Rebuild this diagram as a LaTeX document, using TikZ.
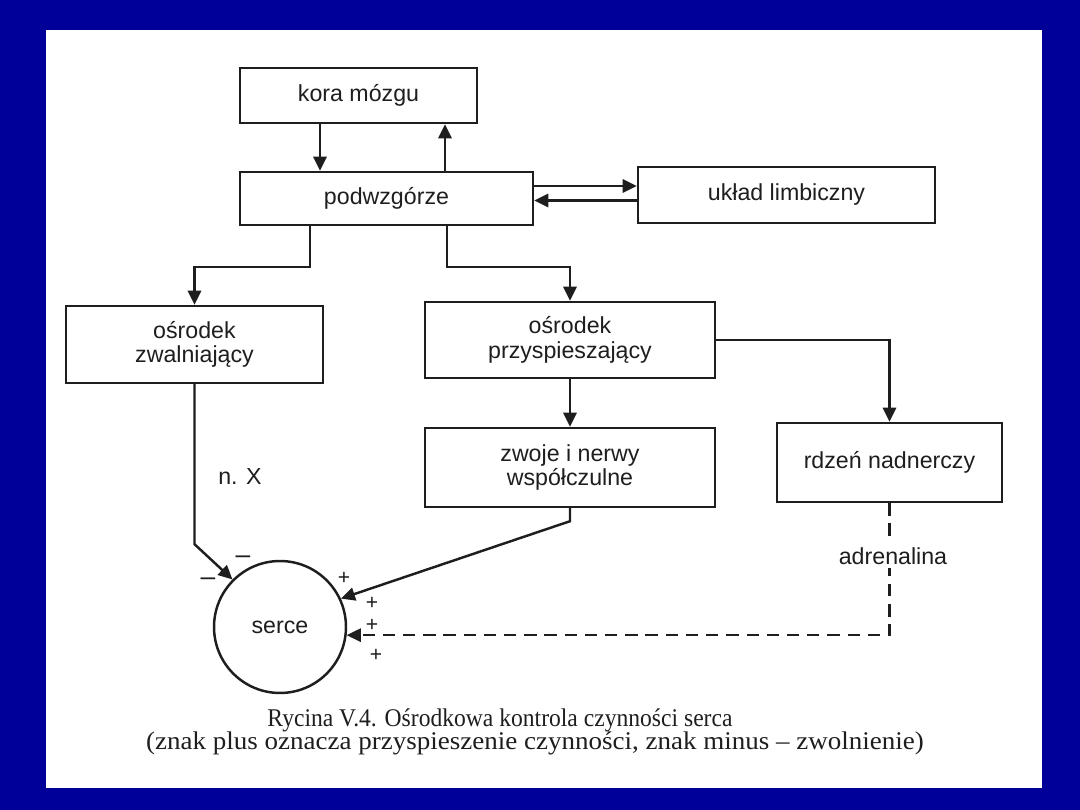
\documentclass[tikz,border=0pt]{standalone}
\usepackage{fontspec}
\setmainfont{Liberation Serif}
\newfontfamily\arialf{Liberation Sans}
\usetikzlibrary{arrows.meta,calc}
\definecolor{bgblue}{RGB}{0,0,153}
\definecolor{ink}{RGB}{30,30,30}
\tikzset{
  x=0.02cm, y=-0.02cm,
  box/.style={draw=ink, line width=1.4pt, fill=white, align=center, inner sep=2pt,
    font=\arialf\fontsize{13.2}{14}\selectfont, text=ink},
  arr/.style={draw=ink, line width=1.4pt, -{Triangle[length=8pt,width=7.5pt]}},
  darr/.style={arr, dash pattern=on 7pt off 4.5pt},
  lbl/.style={font=\arialf\fontsize{13.2}{14}\selectfont, text=ink, inner sep=1pt},
  sgn/.style={font=\arialf\fontsize{12}{12}\selectfont, text=ink, inner sep=0pt},
  msgn/.style={font=\arialf\fontsize{15}{15}\selectfont, text=ink, inner sep=0pt},
  captxt/.style={font=\fontsize{14.5}{16}\selectfont, text=ink, inner sep=0pt}
}
\begin{document}
\begin{tikzpicture}
\fill[bgblue] (0,0) rectangle (1080,810);
\useasboundingbox (0,0) rectangle (1080,810);
\fill[white] (46,30) rectangle (1042,788);

\node[box, minimum width=4.74cm, minimum height=1.1cm] (kora) at (358.5,95.5) {kora mózgu};
\node[box, minimum width=5.86cm, minimum height=1.06cm] (podw) at (386.5,198.5) {podwzgórze};
\node[box, minimum width=5.94cm, minimum height=1.12cm] (limb) at (786.5,195) {układ limbiczny};
\node[box, minimum width=5.14cm, minimum height=1.54cm] (zwal) at (194.5,344.5) {ośrodek\\zwalniający};
\node[box, minimum width=5.8cm, minimum height=1.52cm] (przy) at (570,340) {ośrodek\\przyspieszający};
\node[box, minimum width=5.8cm, minimum height=1.58cm] (zwoje) at (570,467.5) {zwoje i nerwy\\współczulne};
\node[box, minimum width=4.5cm, minimum height=1.58cm] (rdzen) at (889.5,462.5) {rdzeń nadnerczy};
\node[box, circle, minimum size=2.64cm, inner sep=0pt] (serce) at (280,627) {serce};

\draw[arr] ([xshift=-0.77cm]kora.south) -- ([xshift=-0.77cm]kora.south |- podw.north);
\draw[arr] ([xshift=1.17cm]podw.north) -- ([xshift=1.17cm]podw.north |- kora.south);
\draw[arr] ([yshift=0.25cm]podw.east) -- ([yshift=0.25cm]podw.east -| limb.west);
\draw[arr] ([yshift=-0.11cm]limb.west) -- ([yshift=-0.11cm]limb.west -| podw.east);
\draw[arr] ([xshift=-1.53cm]podw.south) -- ++(0,-0.82cm) -| (zwal.north);
\draw[arr] ([xshift=1.21cm]podw.south) -- ++(0,-0.82cm) -| (przy.north);
\draw[arr] (przy.south) -- (zwoje.north);
\draw[arr] (przy.east) -| (rdzen.north);
\draw[arr] (zwal.south) -- ++(0,-3.2cm) -- (serce.135);
\draw[arr] (zwoje.south) -- ++(0,-0.26cm) -- (serce.25);
\draw[darr] (rdzen.south) |- (serce.-7);

\node[lbl] (nx) at (240,477) {n. X};
\node[lbl, fill=white, inner sep=2pt] (adr) at (893,556) {adrenalina};
\node[msgn] (m1) at (243,560) {–};
\node[msgn] (m2) at (208,582) {–};
\node[sgn] (p1) at (344,578) {+};
\node[sgn] (p2) at (372,603) {+};
\node[sgn] (p3) at (372,625) {+};
\node[sgn] (p4) at (376,655) {+};

\node[captxt] (cap1) at (500,720) {\scalebox{0.926}[1]{Rycina V.4. Ośrodkowa kontrola czynności serca}};
\node[captxt] (cap2) at (535,743) {\scalebox{1.06}[1]{(znak plus oznacza przyspieszenie czynności, znak minus – zwolnienie)}};
\end{tikzpicture}
\end{document}
